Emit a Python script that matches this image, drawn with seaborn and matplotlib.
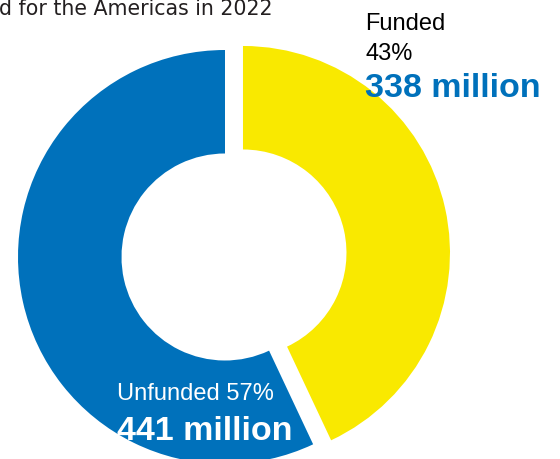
import matplotlib
matplotlib.use("Agg")
import matplotlib.pyplot as plt
import seaborn as sns

# data
labels = ["Funded", "Unfunded"]
amounts = [338, 441]          # million
shares = [43, 57]             # percent
colors = ["#f9e900", "#0071bb"]

sns.set_style("white")
plt.rcParams['font.family'] = ['Liberation Sans', 'DejaVu Sans']

W, H = 560, 459
fig = plt.figure(figsize=(W / 100, H / 100), dpi=100)
ax = fig.add_axes([0, 0, 1, 1])

# donut, funded part pulled out a bit
ax.pie(shares, colors=colors, startangle=90, counterclock=False,
       radius=1, explode=[0.089, 0],
       wedgeprops=dict(width=0.5, linewidth=0))

# map the unit circle so it sits where it does in the reference
R = 207.0
cx, cy = 225.0, 257.0
ax.set_xlim(-cx / R, (W - cx) / R)
ax.set_ylim(-(H - cy) / R, cy / R)
ax.set_aspect('equal')
ax.axis('off')


def px(x, y):
    return x / W, 1 - y / H


fig.text(*px(-1, 15), "d for the Americas in 2022", fontsize=14.8,
         color="#231f20", family=['DejaVu Sans'], va='baseline')

fig.text(*px(365, 30), labels[0], fontsize=17, color="black", va='baseline')
fig.text(*px(365, 60), f"{shares[0]}%", fontsize=17, color="black", va='baseline')
fig.text(*px(365, 97), f"{amounts[0]} million", fontsize=24.5, fontweight='bold',
         color=colors[1], va='baseline')

fig.text(*px(117, 400), f"{labels[1]} {shares[1]}%", fontsize=17, color="white",
         va='baseline')
fig.text(*px(117, 440), f"{amounts[1]} million", fontsize=24.5, fontweight='bold',
         color="white", va='baseline')

fig.savefig("out.png", dpi=100)
